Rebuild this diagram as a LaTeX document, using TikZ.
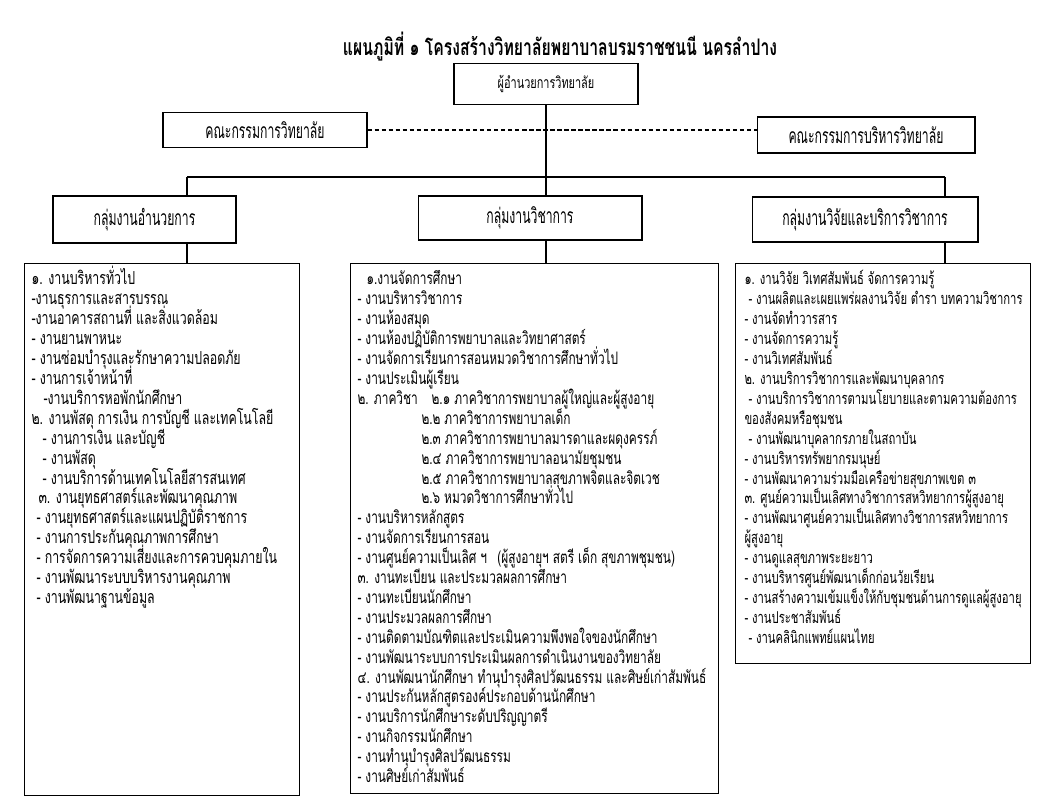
\documentclass[tikz,border=0pt]{standalone}
\usepackage{fontspec}
\setmainfont[Script=Thai, FakeStretch=0.69]{Loma}
\newfontfamily\tallfont[Script=Thai, FakeStretch=0.58]{Loma}
\usetikzlibrary{positioning}

\tikzset{
  headbox/.style={draw, inner sep=0pt, font=\tallfont\fontsize{12}{14}\selectfont},
  listbox/.style={draw, inner sep=0pt, anchor=north west},
  item/.style={anchor=base west, inner sep=0pt, font=\fontsize{9.3}{11}\selectfont}
}

\begin{document}
\begin{tikzpicture}[x=0.02cm, y=-0.02cm, line width=0.6pt]
  \useasboundingbox (0,0) rectangle (1051,810);
  % title
  \node[font=\bfseries\fontsize{13}{15}\selectfont] (title) at (560,47) {แผนภูมิที่ ๑ โครงสร้างวิทยาลัยพยาบาลบรมราชชนนี นครลำปาง};
  % top level
  \node[headbox, font=\fontsize{9}{11}\selectfont, minimum width=3.68cm, minimum height=0.82cm] (dir) at (546,84) {ผู้อำนวยการวิทยาลัย};
  \node[headbox, minimum width=4.08cm, minimum height=0.7cm] (comL) at (265,130) {คณะกรรมการวิทยาลัย};
  \node[headbox, minimum width=4.36cm, minimum height=0.72cm] (comR) at (866,135) {คณะกรรมการบริหารวิทยาลัย};
  \draw[dash pattern=on 2.5pt off 1.5pt] (comL.east) -- (comL.east -| comR.west);
  % groups
  \node[headbox, minimum width=3.66cm, minimum height=0.94cm] (grpA) at (144.5,219.5) {กลุ่มงานอำนวยการ};
  \node[headbox, minimum width=4.48cm, minimum height=0.88cm] (grpB) at (530,218) {กลุ่มงานวิชาการ};
  \node[headbox, minimum width=4.52cm, minimum height=0.9cm] (grpC) at (865,219.5) {กลุ่มงานวิจัยและบริการวิชาการ};
  \coordinate (busA) at (187,177);
  \coordinate (busB) at (546,177);
  \coordinate (busC) at (945,177);
  \draw (dir.south) -- (busB);
  \draw (busA) -- (busC);
  \draw (busA) -- (busA |- grpA.north);
  \draw (busB) -- (busB |- grpB.north);
  \draw (busC) -- (busC |- grpC.north);
  % lists
  \node[listbox, minimum width=5.5cm, minimum height=10.64cm] (listA) at (24,263) {};
  \node[listbox, minimum width=7.36cm, minimum height=10.6cm] (listB) at (350,263) {};
  \node[listbox, minimum width=5.9cm, minimum height=8cm] (listC) at (735,263) {};
  \draw (busA |- grpA.south) -- (busA |- listA.north);
  \draw (busB |- grpB.south) -- (busB |- listB.north);
  \draw (busC |- grpC.south) -- (busC |- listC.north);
  % admin items
  \foreach \dx/\txt [count=\i] in {31/{๑. งานบริหารทั่วไป}, 31/{-งานธุรการและสารบรรณ},
      31/{-งานอาคารสถานที่ และสิ่งแวดล้อม}, 31/{- งานยานพาหนะ},
      31/{- งานซ่อมบำรุงและรักษาความปลอดภัย}, 31/{- งานการเจ้าหน้าที่},
      43/{-งานบริการหอพักนักศึกษา}, 31/{๒. งานพัสดุ การเงิน การบัญชี และเทคโนโลยี},
      42/{- งานการเงิน และบัญชี}, 42/{- งานพัสดุ}, 42/{- งานบริการด้านเทคโนโลยีสารสนเทศ},
      38/{๓. งานยุทธศาสตร์และพัฒนาคุณภาพ}, 36/{- งานยุทธศาสตร์และแผนปฏิบัติราชการ},
      36/{- งานการประกันคุณภาพการศึกษา}, 36/{- การจัดการความเสี่ยงและการควบคุมภายใน},
      36/{- งานพัฒนาระบบบริหารงานคุณภาพ}, 36/{- งานพัฒนาฐานข้อมูล}}
    \node[item, font=\fontsize{10.2}{12}\selectfont] (a\i) at (\dx, 265.1+19.9*\i) {\txt};
  % academic items
  \foreach \dx/\txt [count=\i] in {366/{๑.งานจัดการศึกษา}, 357/{- งานบริหารวิชาการ},
      357/{- งานห้องสมุด}, 357/{- งานห้องปฏิบัติการพยาบาลและวิทยาศาสตร์},
      357/{- งานจัดการเรียนการสอนหมวดวิชาการศึกษาทั่วไป}, 357/{- งานประเมินผู้เรียน},
      357/{๒. ภาควิชา\hspace{0.8em}๒.๑ ภาควิชาการพยาบาลผู้ใหญ่และผู้สูงอายุ},
      421/{๒.๒ ภาควิชาการพยาบาลเด็ก}, 421/{๒.๓ ภาควิชาการพยาบาลมารดาและผดุงครรภ์},
      421/{๒.๔ ภาควิชาการพยาบาลอนามัยชุมชน}, 421/{๒.๕ ภาควิชาการพยาบาลสุขภาพจิตและจิตเวช},
      421/{๒.๖ หมวดวิชาการศึกษาทั่วไป}, 357/{- งานบริหารหลักสูตร},
      357/{- งานจัดการเรียนการสอน},
      357/{- งานศูนย์ความเป็นเลิศ ฯ\hspace{0.6em}(ผู้สูงอายุฯ สตรี เด็ก สุขภาพชุมชน)},
      357/{๓. งานทะเบียน และประมวลผลการศึกษา}, 357/{- งานทะเบียนนักศึกษา},
      357/{- งานประมวลผลการศึกษา}, 357/{- งานติดตามบัณฑิตและประเมินความพึงพอใจของนักศึกษา},
      357/{- งานพัฒนาระบบการประเมินผลการดำเนินงานของวิทยาลัย},
      357/{๔. งานพัฒนานักศึกษา ทำนุบำรุงศิลปวัฒนธรรม และศิษย์เก่าสัมพันธ์},
      357/{- งานประกันหลักสูตรองค์ประกอบด้านนักศึกษา}, 357/{- งานบริการนักศึกษาระดับปริญญาตรี},
      357/{- งานกิจกรรมนักศึกษา}, 357/{- งานทำนุบำรุงศิลปวัฒนธรรม}, 357/{- งานศิษย์เก่าสัมพันธ์}}
    \node[item, font=\fontsize{9.8}{11}\selectfont] (b\i) at (\dx, 265.1+19.9*\i) {\txt};
  % research items
  \foreach \dx/\txt [count=\i] in {744/{๑. งานวิจัย วิเทศสัมพันธ์ จัดการความรู้},
      748/{- งานผลิตและเผยแพร่ผลงานวิจัย ตำรา บทความวิชาการ}, 744/{- งานจัดทำวารสาร},
      744/{- งานจัดการความรู้}, 744/{- งานวิเทศสัมพันธ์}, 744/{๒. งานบริการวิชาการและพัฒนาบุคลากร},
      748/{- งานบริการวิชาการตามนโยบายและตามความต้องการ}, 744/{ของสังคมหรือชุมชน},
      748/{- งานพัฒนาบุคลากรภายในสถาบัน}, 744/{- งานบริหารทรัพยากรมนุษย์},
      744/{- งานพัฒนาความร่วมมือเครือข่ายสุขภาพเขต ๓},
      744/{๓. ศูนย์ความเป็นเลิศทางวิชาการสหวิทยาการผู้สูงอายุ},
      744/{- งานพัฒนาศูนย์ความเป็นเลิศทางวิชาการสหวิทยาการ}, 744/{ผู้สูงอายุ},
      744/{- งานดูแลสุขภาพระยะยาว}, 744/{- งานบริหารศูนย์พัฒนาเด็กก่อนวัยเรียน},
      744/{- งานสร้างความเข้มแข็งให้กับชุมชนด้านการดูแลผู้สูงอายุ}, 744/{- งานประชาสัมพันธ์},
      748/{- งานคลินิกแพทย์แผนไทย}}
    \node[item] (c\i) at (\dx, 265.1+19.9*\i) {\txt};
\end{tikzpicture}
\end{document}
